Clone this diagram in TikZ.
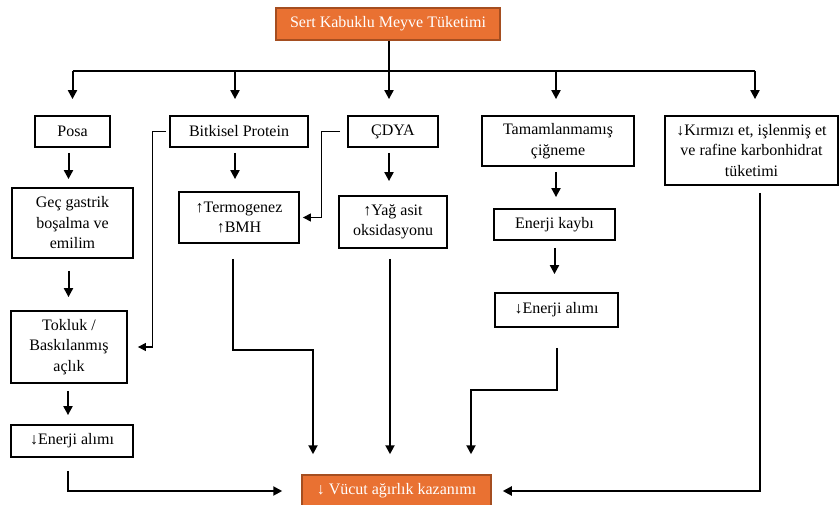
\documentclass[tikz,border=0pt]{standalone}
\usepackage{fontspec}
\setmainfont{Liberation Serif}
\newfontfamily\boxfont{Liberation Serif}
\usetikzlibrary{positioning}
\usetikzlibrary{arrows.meta}
\usetikzlibrary{calc}
\definecolor{nutorange}{RGB}{233,113,50}
\definecolor{nutedge}{RGB}{165,78,32}

\begin{document}
\begin{tikzpicture}[x=1pt, y=-1pt]
	\tikzset{
		box/.style={rectangle, draw=black, line width=1.8pt, inner sep=0pt, align=center, font=\boxfont\fontsize{16}{20.5}\selectfont},
		hotbox/.style={rectangle, draw=nutedge, fill=nutorange, line width=1.5pt, inner sep=0pt, align=center, text=white, font=\boxfont\fontsize{16}{20.5}\selectfont},
		link/.style={line width=2pt, -{Triangle[width=9pt,length=9pt]}},
		thinlink/.style={line width=1.1pt, -{Triangle[width=8pt,length=8pt]}},
	}
	\useasboundingbox (0,0) rectangle (840,505);

	\node[hotbox, minimum width=224, minimum height=32] (start) at (388,24) {Sert Kabuklu Meyve Tüketimi};

	\node[box, minimum width=75, minimum height=31] (posa) at (72.5,131.5) {Posa};
	\node[box, minimum width=138, minimum height=31] (protein) at (239,131.5) {Bitkisel Protein};
	\node[box, minimum width=90, minimum height=31] (cdya) at (393,131.5) {ÇDYA};
	\node[box, minimum width=152, minimum height=50] (chew) at (558,141) {Tamamlanmamış\\çiğneme};
	\node[box, minimum width=173, minimum height=69] (meat) at (751.5,150.5) {↓Kırmızı et, işlenmiş et\\ve rafine karbonhidrat\\tüketimi};

	\coordinate (bus) at (389,71);
	\draw[line width=2pt] (start.south -| bus) -- (bus);
	\draw[line width=2pt] (posa.north |- bus) -- (755,71);
	\draw[link, shorten >=16pt] (posa.north |- bus) -- (posa.north);
	\draw[link, shorten >=16pt] ([xshift=-4pt]protein.north |- bus) -- ([xshift=-4pt]protein.north);
	\draw[link, shorten >=16pt] (bus) -- (bus |- cdya.north);
	\draw[link, shorten >=16pt] ([xshift=-2pt]chew.north |- bus) -- ([xshift=-2pt]chew.north);
	\draw[link, shorten >=16pt] (755,71) coordinate (busend) -- (busend |- meat.north);

	\node[box, minimum width=121, minimum height=70] (gastric) at (72.5,223) {Geç gastrik\\boşalma ve\\emilim};
	\node[box, minimum width=120, minimum height=51] (thermo) at (239,217.5) {↑Termogenez\\↑BMH};
	\node[box, minimum width=108, minimum height=52] (fatox) at (393,222) {↑Yağ asit\\oksidasyonu};
	\node[box, minimum width=121, minimum height=31] (loss) at (554.5,224.5) {Enerji kaybı};
	\node[box, minimum width=123, minimum height=34] (intakeb) at (556.5,310) {↓Enerji alımı};
	\node[box, minimum width=116, minimum height=72] (satiety) at (69,347) {Tokluk /\\Baskılanmış\\açlık};
	\node[box, minimum width=122, minimum height=32] (intakea) at (72,441) {↓Enerji alımı};
	\node[hotbox, minimum width=189, minimum height=32] (gain) at (396.5,491) {↓ Vücut ağırlık kazanımı};

	\draw[link, shorten <=5pt, shorten >=8pt] ([xshift=-4pt]posa.south) -- ([xshift=-4pt]gastric.north);
	\draw[link, shorten <=5pt, shorten >=12pt] ([xshift=-4pt]protein.south) -- ([xshift=-4pt]thermo.north);
	\draw[link, shorten <=5pt, shorten >=14pt] ([xshift=-4pt]cdya.south) -- ([xshift=-4pt]fatox.north);
	\draw[link, shorten <=5pt, shorten >=11pt] ([xshift=-2pt]chew.south) -- ([xshift=-2pt]chew.south |- loss.north);
	\draw[link, shorten <=7pt, shorten >=18pt] (loss.south) -- (intakeb.north -| loss.south);
	\draw[link, shorten <=12pt, shorten >=13pt] ([xshift=-4pt]gastric.south) -- ([xshift=-4pt]gastric.south |- satiety.north);
	\draw[link, shorten <=7pt, shorten >=9pt] ([xshift=-1pt]satiety.south) -- ([xshift=-1pt]satiety.south |- intakea.north);

	\draw[thinlink, shorten <=3pt, shorten >=10pt] (protein.west) -- ++(-17,0) |- (satiety.east);
	\draw[thinlink, shorten <=7pt, shorten >=3pt] (cdya.west) -- ++(-26,0) |- (thermo.east);

	\draw[link, shorten <=13pt, shorten >=19pt] ([xshift=-4pt]intakea.south) |- (gain.west);
	\draw[link, shorten <=15pt, shorten >=20pt] ([xshift=-6pt]thermo.south) -- ++(0,106) -| ([xshift=-83.5pt]gain.north);
	\draw[link, shorten <=10pt, shorten >=20pt] ([xshift=-3pt]fatox.south) -- ([xshift=-3pt]fatox.south |- gain.north);
	\draw[link, shorten <=20pt, shorten >=20pt] (intakeb.south) -- ++(0,62) -| ([xshift=74.5pt]gain.north);
	\draw[link, shorten <=7pt, shorten >=11pt] ([xshift=8.5pt]meat.south) |- (gain.east);
\end{tikzpicture}
\end{document}
